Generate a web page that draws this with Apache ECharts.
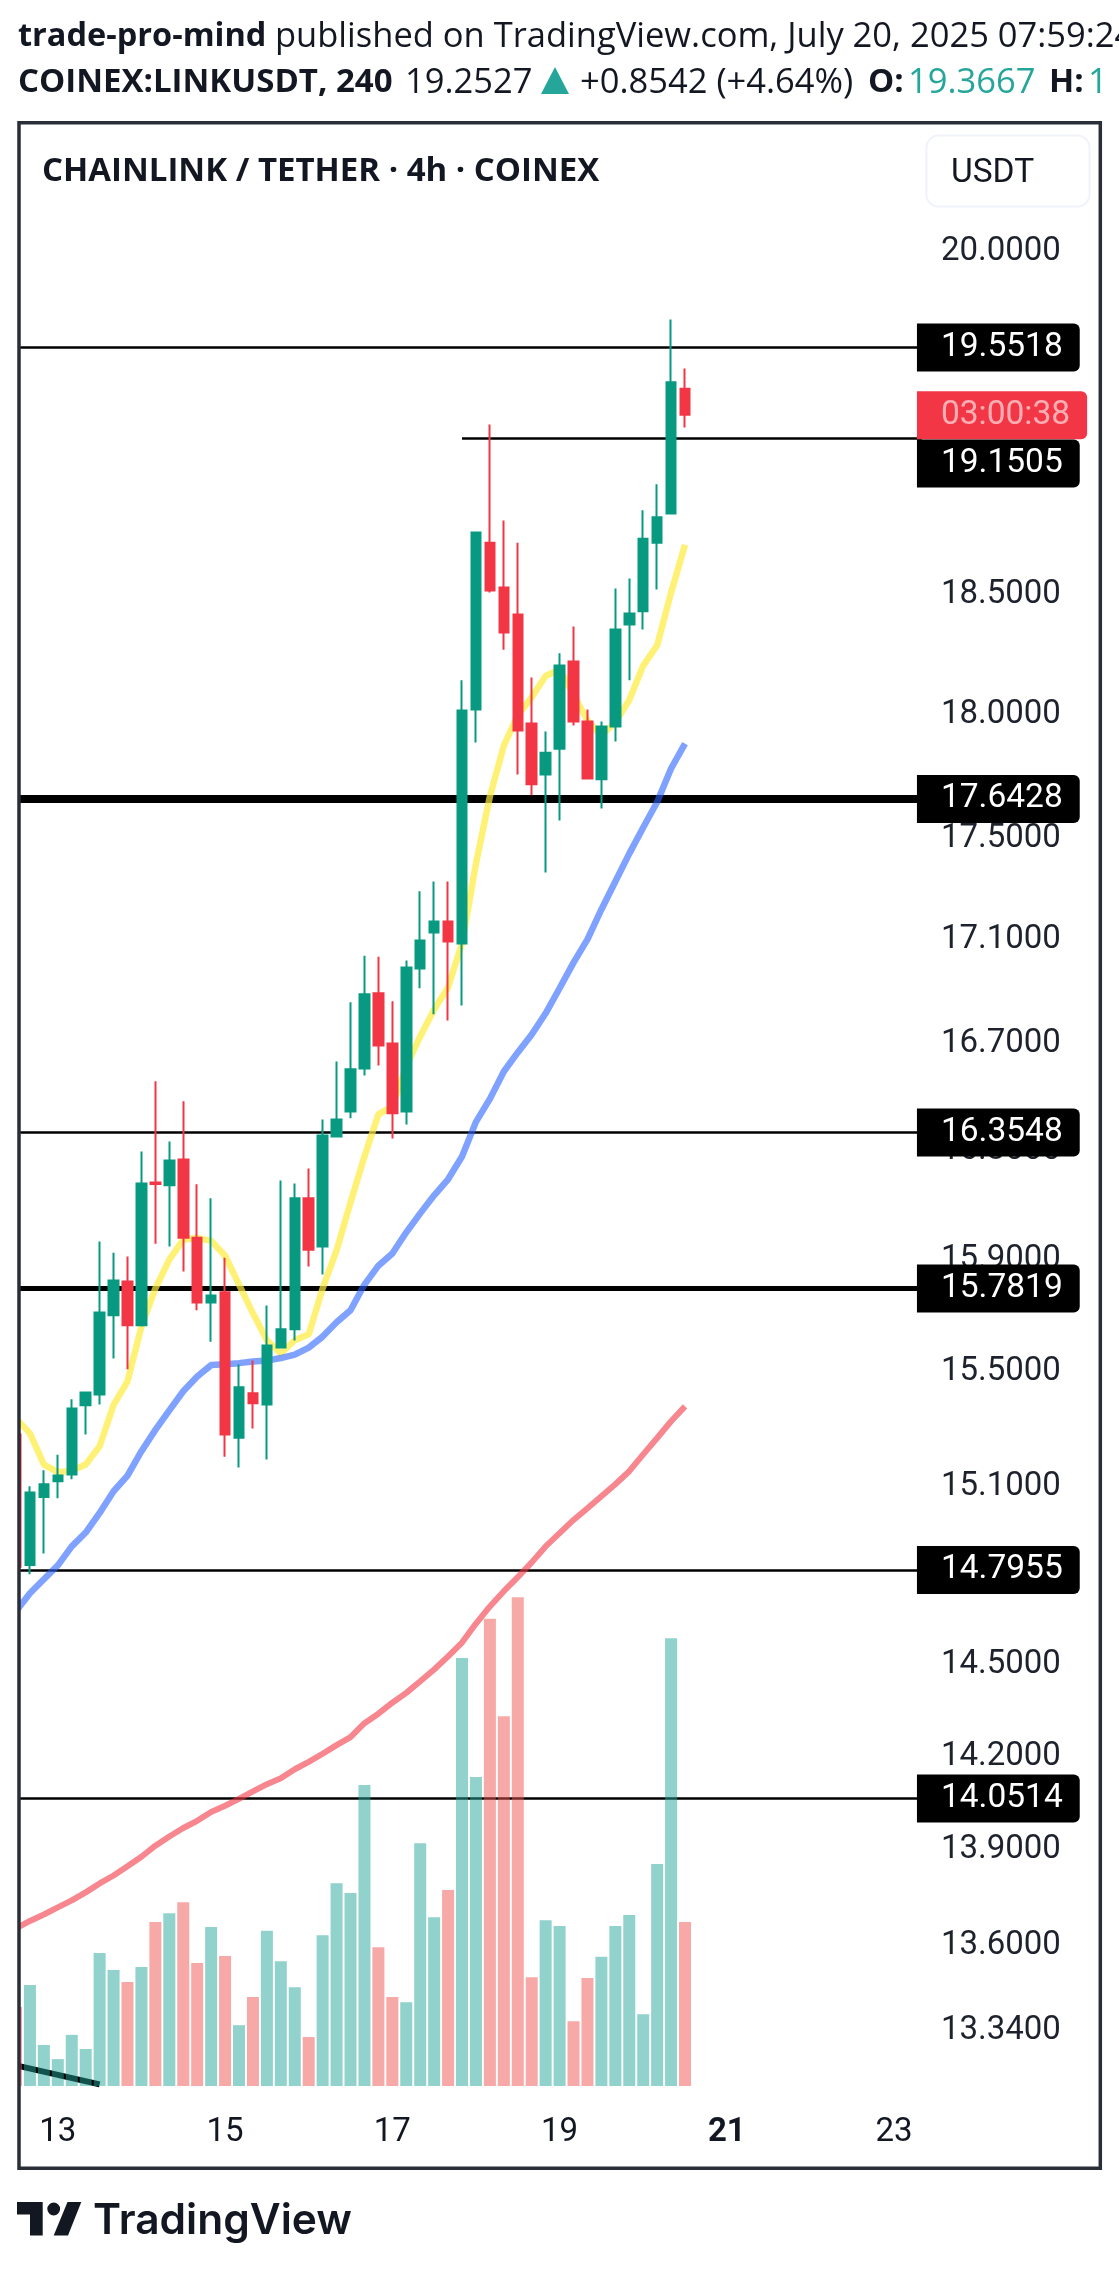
<!DOCTYPE html>
<html><head><meta charset="utf-8">
<style>html,body{margin:0;padding:0;background:#fff}#c{width:1119px;height:2271px}</style>
<script src="https://cdn.jsdelivr.net/npm/echarts@6/dist/echarts.min.js"></script>
</head><body><div id="c"></div>
<script>
// [open, close, low, high]
const candles = [
[15.264,14.811,14.79,15.30],[14.817,15.064,14.786,15.085],[15.048,15.092,14.856,15.140],[15.102,15.122,15.044,15.194],
[15.126,15.355,15.109,15.387],[15.366,15.411,15.264,15.411],[15.404,15.694,15.369,15.950],[15.684,15.809,15.530,15.909],
[15.805,15.648,15.492,15.895],[15.648,16.162,15.644,16.280],[16.165,16.160,15.941,16.542],[16.155,16.246,15.931,16.317],
[16.250,15.963,15.841,16.467],[15.963,15.730,15.702,16.159],[15.730,15.755,15.590,16.107],[15.766,15.264,15.187,15.891],
[15.253,15.429,15.150,15.509],[15.408,15.373,15.285,15.523],[15.369,15.576,15.177,15.719],[15.569,15.634,15.569,16.173],
[15.634,16.107,15.594,16.162],[16.107,15.920,15.859,16.217],[15.931,16.339,15.830,16.399],[16.335,16.399,16.335,16.617],
[16.429,16.587,16.403,16.842],[16.590,16.873,16.564,17.022],[16.877,16.677,16.602,17.018],[16.685,16.422,16.328,16.846],
[16.429,16.976,16.380,17.003],[16.972,17.081,16.896,17.273],[17.112,17.155,16.796,17.312],[17.155,17.077,16.773,17.312],
[17.069,17.999,16.830,18.123],[18.003,18.743,17.868,18.747],[18.700,18.498,18.489,19.210],[18.510,18.321,18.250,18.795],
[18.397,17.917,17.739,18.700],[17.946,17.699,17.655,18.135],[17.739,17.827,17.347,17.913],[17.843,18.184,17.554,18.235],
[18.201,17.954,17.938,18.347],[17.954,17.723,17.719,18.003],[17.719,17.934,17.602,17.954],[17.934,18.334,17.872,18.506],
[18.355,18.401,18.123,18.548],[18.410,18.717,18.334,18.838],[18.700,18.808,18.502,18.950],[18.825,19.395,18.825,19.675],
[19.3667,19.2527,19.197,19.456]];
const volumes = [179,229,93,61,116,84,302,263,236,270,372,392,417,279,361,295,138,202,352,283,224,111,342,460,438,683,315,202,190,551,383,445,971,701,1060,839,1109,247,376,363,147,245,293,363,388,163,504,1016,372];
const maFast = [15.320,15.268,15.160,15.134,15.138,15.160,15.223,15.367,15.450,15.644,15.780,15.884,15.956,15.963,15.952,15.898,15.794,15.691,15.595,15.548,15.595,15.616,15.780,15.917,16.092,16.261,16.418,16.448,16.598,16.712,16.815,16.900,17.069,17.383,17.650,17.856,17.979,18.053,18.141,18.168,18.065,17.958,17.897,17.950,18.042,18.184,18.268,18.489,18.691];
const maMid = [14.662,14.722,14.769,14.816,14.880,14.927,14.994,15.068,15.122,15.206,15.280,15.348,15.415,15.467,15.507,15.510,15.514,15.520,15.523,15.532,15.544,15.569,15.608,15.659,15.702,15.794,15.862,15.906,15.983,16.052,16.118,16.177,16.261,16.390,16.476,16.579,16.651,16.719,16.800,16.896,16.995,17.085,17.202,17.312,17.422,17.526,17.628,17.763,17.864];
const maSlow = [13.641,13.664,13.684,13.706,13.728,13.753,13.781,13.806,13.835,13.865,13.900,13.929,13.956,13.979,14.007,14.027,14.049,14.073,14.096,14.115,14.144,14.168,14.194,14.222,14.248,14.293,14.324,14.360,14.392,14.430,14.469,14.512,14.558,14.621,14.678,14.729,14.776,14.826,14.880,14.925,14.970,15.010,15.051,15.092,15.137,15.195,15.252,15.310,15.362];
const priceTicks = [20,18.5,18,17.5,17.1,16.7,16.3,15.9,15.5,15.1,14.5,14.2,13.9,13.6,13.34];
const dayLabels = {3:'13',15:'15',27:'17',39:'19',51:'21',63:'23'};
const barSlots = 66;
const levels = [19.5518,17.6428,16.3548,15.7819,14.7955,14.0514];
const partialLevel = {price:19.1505, fromIndex:32, tagAt:19.044};
const lastPrice = 19.2527;
const countdown = '03:00:38';
const trendline = [[0,13.222],[6,13.165]];
const heavy = {17.6428:8, 15.7819:5};

const categories = Array.from({length:barSlots},(_, i)=>dayLabels[i]||'');
const GREEN='#089981', RED='#f23645', INK='#131722';
const UP_VOL='rgba(38,166,154,0.5)', DOWN_VOL='rgba(239,83,80,0.5)';
const tagLabel = (text,bg,color,right)=>({show:true,position:'end',distance:-12,formatter:text,color:color||'#fff',backgroundColor:bg||'#000',
  fontFamily:'Roboto',fontSize:33.5,lineHeight:34,padding:[13,right||17,1,24],borderRadius:[0,6,6,0]});
const levelLine = (w)=>({color:'#000',width:w,type:'solid'});
const hiddenLine = {color:'rgba(0,0,0,0)',width:1};
const levelData = [];
levelData.push([{coord:[partialLevel.fromIndex,partialLevel.price],lineStyle:levelLine(2.5),label:{show:false}},{coord:[barSlots-1,partialLevel.price]}]);
levelData.push([{coord:trendline[0],lineStyle:levelLine(6),label:{show:false}},{coord:trendline[1]}]);
levels.forEach(v=>levelData.push({yAxis:v,lineStyle:levelLine(heavy[v]||2.5),label:tagLabel(v.toFixed(4))}));
levelData.push({yAxis:lastPrice,lineStyle:hiddenLine,label:tagLabel(countdown,RED,'rgba(255,255,255,0.6)',17)});
levelData.push({yAxis:partialLevel.tagAt,lineStyle:hiddenLine,label:tagLabel(partialLevel.price.toFixed(4))});

const txt=(x,y,text,opts)=>({type:'text',z:110,silent:true,style:Object.assign({x,y,text,fill:INK,fontFamily:'Open Sans',fontSize:34.5,verticalAlign:'middle'},opts||{})});

const option={
  animation:false,backgroundColor:'#fff',
  title:{text:'CHAINLINK / TETHER · 4h · COINEX',left:42,top:155,padding:0,textStyle:{fontFamily:'Open Sans',fontWeight:700,fontSize:33,color:INK}},
  grid:{left:9.03,top:124,width:919.91,height:1962,containLabel:false},
  xAxis:{type:'category',data:categories,boundaryGap:true,z:0,axisLine:{show:false},axisTick:{show:false},splitLine:{show:false},
    axisLabel:{interval:(i)=>!!dayLabels[i],margin:30,color:INK,fontFamily:'Roboto',fontSize:33,
      formatter:(v)=>v==='21'?'{b|21}':v,rich:{b:{fontWeight:700,fontFamily:'Roboto',fontSize:33,color:INK}}}},
  yAxis:[
    {type:'log',position:'right',min:13.16,max:20.57,z:0,axisLine:{show:false},axisTick:{show:false},splitLine:{show:false},
     axisLabel:{customValues:priceTicks,align:'left',margin:12,color:'#1e222d',fontFamily:'Roboto',fontSize:33,
       formatter:(v)=>'{p|'+Number(v).toFixed(4)+'}',rich:{p:{padding:[9,0,0,0],fontFamily:'Roboto',fontSize:33,color:'#1e222d'}}}},
    {type:'value',min:0,max:4452,show:false,splitLine:{show:false}}
  ],
  series:[
    {name:'Levels',type:'line',data:[],z:1,silent:true,markLine:{z:1,silent:true,symbol:'none',animation:false,data:levelData}},
    {name:'MA fast',type:'line',data:maFast,z:2,symbol:'none',showSymbol:false,lineStyle:{color:'#ffeb3b',width:6.5,opacity:0.7}},
    {name:'MA mid',type:'line',data:maMid,z:2,symbol:'none',showSymbol:false,lineStyle:{color:'#2962ff',width:6.5,opacity:0.6}},
    {name:'MA slow',type:'line',data:maSlow,z:2,symbol:'none',showSymbol:false,lineStyle:{color:'#f23645',width:6,opacity:0.6}},
    {name:'Volume',type:'bar',yAxisIndex:1,z:3,barWidth:12,data:volumes.map((v,i)=>({value:v,itemStyle:{color:candles[i][1]>=candles[i][0]?UP_VOL:DOWN_VOL}}))},
    {name:'LINKUSDT',type:'candlestick',z:4,barWidth:10,data:candles,itemStyle:{color:GREEN,color0:RED,borderColor:GREEN,borderColor0:RED,borderWidth:2}}
  ],
  graphic:{elements:[
    {type:'rect',z:100,silent:true,shape:{x:0,y:122,width:18,height:2046},style:{fill:'#fff'}},
    {type:'rect',z:101,silent:true,shape:{x:19,y:122.75,width:1081.3,height:2045.5},style:{fill:'none',stroke:'#2a2e39',lineWidth:3.5}},
    {type:'rect',z:90,silent:true,shape:{x:926.5,y:135.5,width:163,height:71,r:12},style:{fill:'#fff',stroke:'#f0f3fa',lineWidth:2}},
    txt(951,174,'USDT',{fontFamily:'Roboto',fontSize:33.5}),
    txt(18,37,'trade-pro-mind',{fontWeight:700,fontSize:32.5}),
    txt(275,37,'published on TradingView.com, July 20, 2025 07:59:24'),
    txt(18,83,'COINEX:LINKUSDT, 240',{fontWeight:700,fontSize:33}),
    txt(405,83,'19.2527'),
    {type:'polygon',z:110,silent:true,shape:{points:[[555,67],[569,94],[541,94]]},style:{fill:'#26a69a'}},
    txt(580,83,'+0.8542 (+4.64%)'),
    txt(868,83,'O:',{fontWeight:700,fontSize:33}),
    txt(908,83,'19.3667',{fill:'#26a69a'}),
    txt(1049,83,'H:',{fontWeight:700,fontSize:33}),
    txt(1088,83,'1',{fill:'#26a69a'}),
    {type:'polygon',z:110,silent:true,shape:{points:[[17,2202],[42.7,2202],[42.7,2235.4],[30,2235.4],[30,2214.5],[17,2214.5]]},style:{fill:INK}},
    {type:'circle',z:110,silent:true,shape:{cx:53.7,cy:2209,r:6.4},style:{fill:INK}},
    {type:'polygon',z:110,silent:true,shape:{points:[[67.5,2202],[81.3,2202],[68,2235.4],[53.7,2235.4]]},style:{fill:INK}},
    txt(93,2221,'TradingView',{fontFamily:'Inter',fontWeight:600,fontSize:42.5})
  ]}
};
echarts.init(document.getElementById('c'),null,{renderer:'canvas'}).setOption(option);
</script></body></html>
